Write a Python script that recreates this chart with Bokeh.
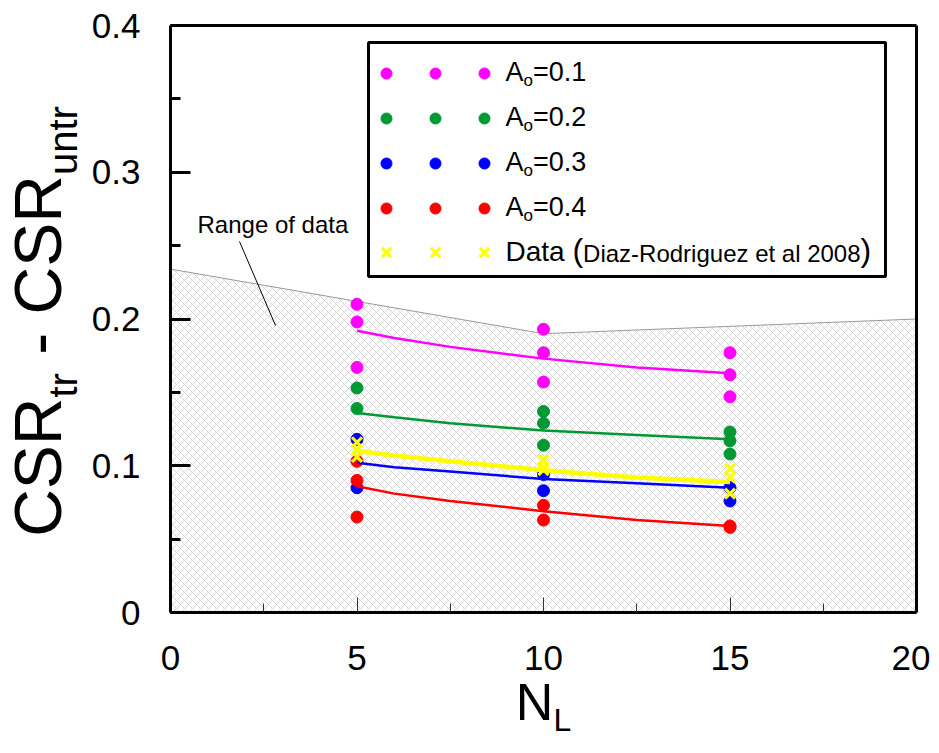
import math
from bokeh.plotting import figure
from bokeh.models import Label, FixedTicker, CustomJSTickFormatter, LinearAxis, Range1d
from bokeh.embed import file_html
from bokeh.resources import INLINE

# ---------------- data ----------------
a01_x = [5, 5, 5, 10, 10, 10, 15, 15, 15]
a01_y = [0.210, 0.198, 0.167, 0.193, 0.177, 0.157, 0.177, 0.162, 0.147]
a02_x = [5, 5, 10, 10, 10, 15, 15, 15]
a02_y = [0.153, 0.139, 0.137, 0.129, 0.114, 0.123, 0.117, 0.108]
a03_x = [5, 5, 10, 10, 15, 15]
a03_y = [0.118, 0.085, 0.094, 0.083, 0.085, 0.076]
a04_x = [5, 5, 5, 10, 10, 15, 15]
a04_y = [0.103, 0.090, 0.065, 0.073, 0.063, 0.059, 0.058]
obs_x = [5, 5, 5, 10, 10, 10, 15, 15, 15]
obs_y = [0.116, 0.111, 0.106, 0.104, 0.099, 0.097, 0.098, 0.092, 0.081]

fit_x = [5, 6, 7.5, 10, 12.5, 15]
fit_a01 = [0.192, 0.187, 0.181, 0.173, 0.167, 0.163]
fit_a02 = [0.136, 0.133, 0.129, 0.124, 0.121, 0.118]
fit_a03 = [0.102, 0.099, 0.096, 0.091, 0.088, 0.085]
fit_a04 = [0.086, 0.081, 0.076, 0.069, 0.063, 0.059]
fit_obs = [0.110, 0.107, 0.103, 0.097, 0.092, 0.089]

range_x = [0, 0, 10, 20, 20]
range_y = [0, 0.234, 0.190, 0.200, 0]

x_lim = [0, 20]
y_lim = [0, 0.4]
x_ticks = [0, 5, 10, 15, 20]
x_minor = [2.5, 7.5, 12.5, 17.5]
y_ticks = [0, 0.1, 0.2, 0.3, 0.4]
y_minor = [0.05, 0.15, 0.25, 0.35]

ao_values = ["0.1", "0.2", "0.3", "0.4"]
series_colors = ["#FF00FF", "#009933", "#0000FF", "#FF0000"]
obs_color = "#FFFF00"

FONT = "Liberation Sans"

# ---------------- layout (canvas pixels) ----------------
W, H = 930, 745
FR_L, FR_R, FR_T, FR_B = 170, 916, 25, 612   # where the axes box sits
def px_x(px):
    return x_lim[0] + (px - FR_L) / (FR_R - FR_L) * (x_lim[1] - x_lim[0])
def px_y(py):
    return y_lim[0] + (FR_B - py) / (FR_B - FR_T) * (y_lim[1] - y_lim[0])

AW = {'A': 667, 'o': 556, '=': 584, '0': 556, '1': 556, '2': 556, '3': 556,
      '4': 556, '8': 556, '.': 278, 'D': 722, 'a': 556, 't': 278, ' ': 278,
      '(': 333, ')': 333, 'i': 222, 'z': 500, '-': 333, 'R': 722, 'd': 556,
      'r': 333, 'g': 556, 'u': 556, 'e': 556, 'l': 222, 'C': 722, 'S': 667,
      'n': 556, 'N': 722, 'L': 556, 'f': 278}
def tw(s, size):
    return sum(AW.get(c, 556) for c in s) / 1000.0 * size

p = figure(frame_width=W, frame_height=H,
           x_range=Range1d(px_x(0), px_x(W)), y_range=Range1d(px_y(H), px_y(0)),
           x_axis_location=None, y_axis_location=None,
           output_backend="svg", toolbar_location=None, min_border=0)
p.grid.visible = False
p.outline_line_color = None
p.background_fill_color = "white"
p.border_fill_color = "white"

def lab(px, base_py, text, size, angle=0.0):
    """Place text whose alphabetic baseline is at base_py (canvas pixels)."""
    if angle == 0.0:
        x, y = px_x(px), px_y(base_py - 0.35 * size)
    else:  # rotated 90 deg: baseline is vertical line at x = px
        x, y = px_x(px - 0.35 * size), px_y(base_py)
    p.add_layout(Label(x=x, y=y, text=text, angle=angle,
                       text_font=FONT, text_font_size=f"{size}px",
                       text_color="black", text_align="left",
                       text_baseline="middle"))

# ---------------- axes ----------------
yax = LinearAxis(fixed_location=x_lim[0], bounds=(y_lim[0], y_lim[1]),
                 ticker=FixedTicker(ticks=y_ticks, minor_ticks=y_minor),
                 formatter=CustomJSTickFormatter(
                     code="return Math.abs(tick) < 1e-9 ? '0' : tick.toFixed(1);"))
yax.axis_line_width = 3
yax.major_tick_in = 20
yax.major_tick_out = 0
yax.major_tick_line_width = 3
yax.minor_tick_in = 10
yax.minor_tick_out = 0
yax.minor_tick_line_width = 3
yax.major_label_standoff = 30

xax = LinearAxis(fixed_location=y_lim[0], bounds=(x_lim[0], x_lim[1]),
                 ticker=FixedTicker(ticks=x_ticks, minor_ticks=x_minor))
xax.axis_line_width = 3
xax.major_tick_in = 15
xax.major_tick_out = 0
xax.major_tick_line_width = 1
xax.major_tick_line_color = "#333333"
xax.minor_tick_in = 9
xax.minor_tick_out = 0
xax.minor_tick_line_width = 1
xax.minor_tick_line_color = "#333333"
xax.major_label_standoff = 33

for ax in (xax, yax):
    ax.major_label_text_font = FONT
    ax.major_label_text_font_size = "35px"
    ax.major_label_text_color = "black"

top_ax = LinearAxis(fixed_location=y_lim[1], bounds=(x_lim[0], x_lim[1]),
                    ticker=FixedTicker(ticks=[]))
right_ax = LinearAxis(fixed_location=x_lim[1], bounds=(y_lim[0], y_lim[1]),
                      ticker=FixedTicker(ticks=[]))
for ax in (top_ax, right_ax):
    ax.axis_line_width = 3
    ax.major_tick_in = 0
    ax.major_tick_out = 0
    ax.minor_tick_in = 0
    ax.minor_tick_out = 0

p.add_layout(xax, "below")
p.add_layout(yax, "left")
p.add_layout(top_ax, "above")
p.add_layout(right_ax, "right")

# ---------------- range of data (hatched) ----------------
p.patch(range_x, range_y, fill_color="white", fill_alpha=1.0,
        hatch_pattern="diagonal_cross", hatch_color="#cccccc",
        hatch_scale=8, hatch_weight=0.8, line_color="#999999", line_width=1)

# measured points
pts = [(a01_x, a01_y), (a02_x, a02_y), (a03_x, a03_y), (a04_x, a04_y)]
for (xs, ys), c in zip(pts, series_colors):
    p.scatter(xs, ys, marker="circle", size=12, fill_color=c, line_color=c)

# fitted curves
for ys, c in zip([fit_a01, fit_a02, fit_a03, fit_a04], series_colors):
    p.line(fit_x, ys, line_color=c, line_width=2.5)

p.scatter(obs_x, obs_y, marker="x", size=14, line_color=obs_color, line_width=3)
p.line(fit_x, fit_obs, line_color=obs_color, line_width=4.5)

# "Range of data" annotation
lab(197, 232, "Range of data", 24)
p.segment(x0=[px_x(239)], y0=[px_y(241)], x1=[px_x(275)], y1=[px_y(325)],
          line_color="black", line_width=1)

# ---------------- legend ----------------
p.quad(left=[px_x(368)], right=[px_x(885)], top=[px_y(42)], bottom=[px_y(276)],
       fill_color="white", line_color="black", line_width=3)
leg_mx = [px_x(386), px_x(435), px_x(484)]
rows = [73, 118, 163, 208, 252]
for i, (v, c) in enumerate(zip(ao_values, series_colors)):
    ry = rows[i]
    p.scatter(leg_mx, [px_y(ry)] * 3, marker="circle", size=11,
              fill_color=c, line_color=c)
    x0 = 505
    lab(x0, ry + 8, "A", 27)
    x0 += tw("A", 27)
    lab(x0, ry + 13, "o", 17)
    x0 += tw("o", 17)
    lab(x0, ry + 8, "=" + v, 27)
ry = rows[4]
p.scatter(leg_mx, [px_y(ry)] * 3, marker="x", size=13, line_color=obs_color,
          line_width=3)
x0 = 505
lab(x0, ry + 9, "Data", 28)
x0 += tw("Data ", 28)
lab(x0, ry + 9, "(", 32)
x0 += tw("(", 32)
lab(x0, ry + 9, "Diaz-Rodriguez et al 2008", 24)
x0 += tw("Diaz-Rodriguez et al 2008", 24)
lab(x0, ry + 9, ")", 32)

# ---------------- y-axis title (rotated, with subscripts) ----------------
F, S = 66, 40
pieces = [("CSR", F, 0, "CSR"), ("tr", S, 15, "tr"), ("-", F, 0, " - "),
          ("CSR", F, 0, "CSR"), ("untr", S, 15, "untr")]
total = sum(tw(adv, size) for _, size, _, adv in pieces)
base_x = 61
pos = 321 + total / 2
for text, size, sh, adv in pieces:
    if text == "-":
        lab(base_x, pos - tw(" ", size), text, size, angle=math.pi / 2)
    else:
        lab(base_x + sh, pos, text, size, angle=math.pi / 2)
    pos -= tw(adv, size)

# ---------------- x-axis title ----------------
NF, LS = 52, 32
nx = (FR_L + FR_R) / 2 - (tw("N", NF) + tw("L", LS)) / 2
lab(nx, 720, "N", NF)
lab(nx + tw("N", NF), 731, "L", LS)

open("out.html", "w").write(file_html(p, INLINE))
